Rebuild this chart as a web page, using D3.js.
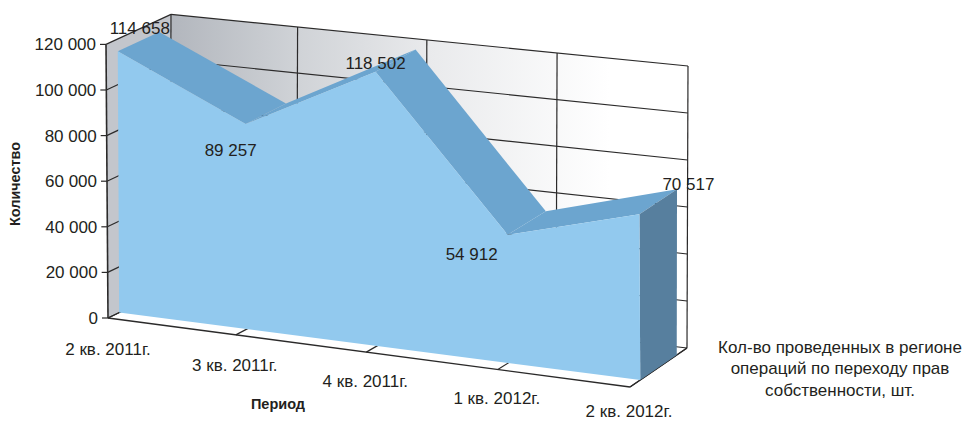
<!DOCTYPE html>
<html><head><meta charset="utf-8">
<script src="https://cdn.jsdelivr.net/npm/d3@7/dist/d3.min.js"></script>
<style>html,body{margin:0;padding:0;background:#fff}svg{display:block}text{font-family:"Liberation Sans",Arial,sans-serif;fill:#231f20}</style>
</head><body><svg id="c" width="962" height="421"></svg>
<script>
const categories = ["2 кв. 2011г.","3 кв. 2011г.","4 кв. 2011г.","1 кв. 2012г.","2 кв. 2012г."];
const values = [114658, 89257, 118502, 54912, 70517];
const valueLabels = ["114 658","89 257","118 502","54 912","70 517"];
const yTicks = [0,20000,40000,60000,80000,100000,120000];
const seriesName = ["Кол-во проведенных в регионе","операций по переходу прав","собственности, шт."];

const svg = d3.select("#c");
const C = {front:"#92c9ee", top:"#6ca5cf", side:"#577f9e", line:"#2b2a2a", wall:"#c3c6cc"};

// floor corners of the 3D box; slight perspective along the category axis
const xi = d3.scalePow().exponent(1.015).domain([0,categories.length-1]).range([0,1]);
const bx0 = d3.scaleLinear().domain([0,1]).range([108,630]);
const by0 = d3.scaleLinear().domain([0,1]).range([318,387]);
const bx1 = d3.scaleLinear().domain([0,1]).range([170,687]);
const by1 = d3.scaleLinear().domain([0,1]).range([288,348]);
const unit = d3.scaleLinear().domain([0,1]).range([0.00228,0.00235]);
const yVal = d3.scaleLinear().domain([0,120000]).range([0,1]);

function P(i,v,d){
  const t = xi(i);
  const x = bx0(t)+(bx1(t)-bx0(t))*d + yVal(v)*(3*d-2);
  const y = by0(t)+(by1(t)-by0(t))*d - v*unit(t);
  return [x,y];
}
const line = d3.line();
const n = categories.length, last = n-1;
const D0 = 0.18, D1 = 0.82;
const maxV = yTicks[yTicks.length-1];
function poly(pts,fill){ svg.append("path").attr("d",line(pts)+"Z").attr("fill",fill); }
function seg(a,b,w){ svg.append("path").attr("d",line([a,b])).attr("fill","none").attr("stroke",C.line).attr("stroke-width",w||1.2); }

// back wall gradient
const g = svg.append("defs").append("linearGradient").attr("id","wall")
  .attr("gradientUnits","userSpaceOnUse").attr("x1",P(0,0,1)[0]).attr("x2",P(last,0,1)[0]).attr("y1",0).attr("y2",0);
g.append("stop").attr("offset","0").attr("stop-color","#b2b6bd");
g.append("stop").attr("offset","0.25").attr("stop-color","#d0d3d7");
g.append("stop").attr("offset","0.5").attr("stop-color","#e9eaec");
g.append("stop").attr("offset","0.85").attr("stop-color","#ffffff");

poly([P(0,0,1),P(0,maxV,1),P(last,maxV,1),P(last,0,1)],"url(#wall)");
poly([P(0,0,0),P(0,maxV,0),P(0,maxV,1),P(0,0,1)],C.wall);

// grid lines
yTicks.forEach(v=>{
  seg(P(0,v,1),P(last,v,1));
  seg(P(0,v,0),P(0,v,1));
  const a=P(0,v,0); seg([a[0]-6,a[1]],a);
});
d3.range(n).forEach(i=>{
  seg(P(i,0,1),P(i,maxV,1));
  seg(P(i,0,0),P(i,0,1));
});
seg(P(0,0,0),P(0,maxV,0),1.6);
seg(P(0,0,0),P(last,0,0),1.4);
seg(P(last,0,0),P(last,0,1),1.2);

// area: top faces, side, front
d3.range(n-1).forEach(i=>{
  poly([P(i,values[i],D0),P(i,values[i],D1),P(i+1,values[i+1],D1),P(i+1,values[i+1],D0)],C.top);
});
poly([P(last,0,D0),P(last,values[last],D0),P(last,values[last],D1),P(last,0,D1)],C.side);
const frontPts = [P(0,0,D0)].concat(values.map((v,i)=>P(i,v,D0))).concat([P(last,0,D0)]);
poly(frontPts,C.front);

// value-axis labels
yTicks.forEach(v=>{
  const a=P(0,v,0);
  svg.append("text").attr("x",a[0]-10).attr("y",a[1]+6).attr("text-anchor","end").attr("font-size",17)
    .text(d3.format(",")(v).replace(/,/g," "));
});
// category labels
categories.forEach((c,i)=>{
  const a=P(i,0,0);
  svg.append("text").attr("x",a[0]-(i>0?1:0)).attr("y",Math.min(a[1]+36.5-i*0.8,417)).attr("text-anchor","middle").attr("font-size",17).text(c);
});
// data labels
const labelNudge = [[22,-17],[-15,32],[0,-3],[-36,25],[49,-24]];
values.forEach((v,i)=>{
  const a=P(i,v,D0);
  svg.append("text").attr("x",a[0]+labelNudge[i][0]).attr("y",a[1]+labelNudge[i][1])
    .attr("text-anchor","middle").attr("font-size",17).text(valueLabels[i]);
});
// titles
svg.append("text").attr("transform","translate(20,184) rotate(-90)").attr("text-anchor","middle")
  .attr("font-size",14.4).attr("font-weight","bold").text("Количество");
svg.append("text").attr("x",278).attr("y",409).attr("text-anchor","middle")
  .attr("font-size",14.5).attr("font-weight","bold").text("Период");
seriesName.forEach((s,i)=>{
  svg.append("text").attr("x",840).attr("y",353+i*21.3).attr("text-anchor","middle").attr("font-size",17).text(s);
});
</script></body></html>
